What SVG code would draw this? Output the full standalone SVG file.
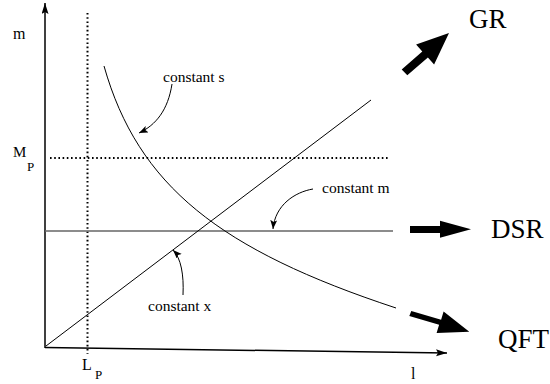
<svg xmlns="http://www.w3.org/2000/svg" width="550" height="384" viewBox="0 0 550 384">
<defs>
<style>
text{font-family:"Liberation Serif",serif;fill:#000}
.sm{font-size:15.5px}
.big{font-size:27px}
.ax{stroke:#000;stroke-width:1.5;fill:none}
.thin{stroke:#000;stroke-width:1;fill:none}
.dot{stroke:#000;stroke-width:2;stroke-dasharray:1.6 2.6;fill:none}
.fat{fill:#000;stroke:none}
</style>
<marker id="ah" markerUnits="userSpaceOnUse" markerWidth="10" markerHeight="8" refX="9" refY="3.5" orient="auto">
<path d="M0,0 L9,3.5 L0,7 L2,3.5 z" fill="#000"/>
</marker>
<marker id="axh" markerUnits="userSpaceOnUse" markerWidth="12" markerHeight="8" refX="11" refY="3.5" orient="auto">
<path d="M0,0 L11,3.5 L0,7 L2,3.5 z" fill="#000"/>
</marker>
</defs>
<rect width="550" height="384" fill="#fff"/>
<g id="axes">
<line class="ax" x1="45" y1="348" x2="45" y2="3" marker-end="url(#axh)"/>
<line class="ax" x1="45" y1="347.5" x2="447" y2="353" marker-end="url(#axh)"/>
<text x="13" y="39" font-size="16">m</text>
<text x="13" y="157" font-size="15">M</text>
<text x="27" y="171" font-size="13">P</text>
<text x="82" y="370" font-size="16">L</text>
<text x="95" y="379" font-size="13">P</text>
<text x="411" y="379" font-size="16">l</text>
</g>
<g id="guides">
<line class="dot" x1="87.5" y1="13" x2="87.5" y2="354"/>
<line class="dot" x1="50" y1="158" x2="390" y2="158"/>
</g>
<g id="curves">
<line x1="45" y1="231" x2="393" y2="231" stroke="#666" stroke-width="1.3"/>
<line class="thin" x1="46" y1="346" x2="371" y2="100"/>
<path class="thin" d="M104,66 C138,186 220,250 396,308"/>
</g>
<g id="labels">
<text class="sm" x="163" y="82">constant s</text>
<text class="sm" x="322" y="193">constant m</text>
<text class="sm" x="148" y="311">constant x</text>
<text class="big" x="469" y="28">GR</text>
<text class="big" x="491" y="238">DSR</text>
<text class="big" x="498" y="348">QFT</text>
</g>
<g id="connectors">
<path class="thin" d="M172,84 C168,110 156,125 139,133" marker-end="url(#ah)"/>
<path class="thin" d="M313,189 C295,192 275,205 273,229" marker-end="url(#ah)"/>
<path class="thin" d="M183,295 C184,275 181,258 173,250" marker-end="url(#ah)"/>
<polygon class="fat" points="401.7,69.4 422.3,51.6 416.1,44.5 449,33 434.1,64.5 427.9,57.4 407.3,75.2"/>
<polygon class="fat" points="410,226 440,226 440,220.7 471,229.3 440,237.8 440,233 410,233"/>
<polygon class="fat" points="411.3,310.9 441.1,319.7 443.6,311.4 469.3,331.7 436.6,333.1 439.1,324.8 409.3,316.1"/>
</g>
</svg>
